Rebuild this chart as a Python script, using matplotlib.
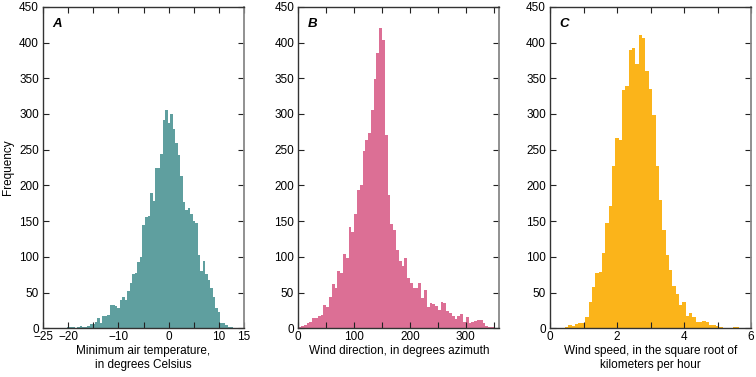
import matplotlib
matplotlib.use("Agg")
import matplotlib.pyplot as plt
import numpy as np

plt.rcParams['font.family'] = ['Liberation Sans', 'DejaVu Sans']

# --- Histogram counts ---
# A: minimum air temperature, bins of 0.5 degC starting at -21.2
temp_start, temp_width = -21.2, 0.5
temp_counts = [1, 1, 2, 2, 2, 1, 2, 3, 2, 2, 4, 6, 6, 9, 14, 8, 18, 18, 19, 32,
               33, 31, 29, 39, 44, 40, 52, 63, 76, 77, 93, 100, 144, 156, 157, 190,
               178, 225, 224, 244, 292, 305, 287, 300, 279, 259, 243, 213, 177, 165,
               169, 160, 150, 147, 102, 80, 94, 76, 67, 57, 44, 29, 23, 8, 8, 5, 2,
               2, 1, 1, 1]

# B: wind direction, bins of 5 degrees starting at 0
dir_start, dir_width = 0, 5
dir_counts = [2, 3, 5, 8, 9, 14, 14, 17, 19, 32, 30, 44, 62, 56, 80, 78, 104, 98,
              142, 135, 160, 194, 200, 248, 263, 274, 305, 349, 386, 420, 403, 270,
              187, 146, 137, 110, 94, 87, 99, 70, 64, 57, 57, 63, 43, 53, 30, 36, 34,
              31, 26, 37, 35, 25, 22, 17, 13, 18, 20, 9, 16, 8, 9, 10, 12, 12, 8, 4,
              2, 2, 1]

# C: sqrt wind speed, bins of 0.1 starting at 0.35
spd_start, spd_width = 0.35, 0.1
spd_counts = [1, 2, 5, 3, 6, 7, 8, 16, 37, 58, 78, 79, 105, 147, 171, 227, 267, 263,
              333, 339, 390, 393, 370, 410, 406, 360, 335, 299, 227, 179, 138, 103,
              81, 59, 48, 33, 37, 17, 21, 16, 9, 9, 10, 9, 5, 5, 3, 2, 0, 1, 1, 2, 2]

panels = [
    dict(counts=temp_counts, start=temp_start, width=temp_width, color="#5f9f9f",
         xlim=(-25, 15), ticks=np.arange(-25, 16, 5),
         labels=["\u221225", "\u221220", "", "\u221210", "", "0", "", "10", "15"],
         xlabel="Minimum air temperature,\nin degrees Celsius", letter="A"),
    dict(counts=dir_counts, start=dir_start, width=dir_width, color="#dc6f95",
         xlim=(0, 360), ticks=np.arange(0, 351, 50),
         labels=["0", "", "100", "", "200", "", "300", ""],
         xlabel="Wind direction, in degrees azimuth", letter="B"),
    dict(counts=spd_counts, start=spd_start, width=spd_width, color="#fbb41a",
         xlim=(0, 6), ticks=np.arange(0, 7, 1),
         labels=["0", "", "2", "", "4", "", "6"],
         xlabel="Wind speed, in the square root of\nkilometers per hour", letter="C"),
]

fig = plt.figure(figsize=(7.56, 3.77), dpi=100)
lefts = [43 / 756, 298.3 / 756, 550 / 756]
w = 201 / 756
bottom, height = 0.129, 0.853

for i, p in enumerate(panels):
    ax = fig.add_axes([lefts[i], bottom, w, height])
    counts = np.array(p["counts"], dtype=float)
    edges = p["start"] + p["width"] * np.arange(len(counts) + 1)
    ax.stairs(counts, edges, fill=True, color=p["color"], linewidth=0)

    ax.set_xlim(*p["xlim"])
    ax.set_ylim(0, 450)
    ax.set_xticks(p["ticks"])
    ax.set_xticklabels(p["labels"])
    ax.set_yticks(np.arange(0, 451, 50))
    ax.tick_params(direction="in", top=True, right=True, length=4, width=0.8,
                   labelsize=8.5, pad=2, color="#222222")
    ax.tick_params(axis="y", pad=3)
    for side in ["left", "bottom", "top"]:
        ax.spines[side].set_color("#333333")
        ax.spines[side].set_linewidth(1.0)
    ax.spines["right"].set_color("#888888")
    ax.spines["right"].set_linewidth(1.3)

    ax.set_xlabel(p["xlabel"], fontsize=8.5, linespacing=1.25)
    ax.xaxis.set_label_coords(0.5, -0.052)
    ax.text(0.07, 0.945, p["letter"], transform=ax.transAxes, fontsize=9.5,
            fontweight="bold", fontstyle="italic", ha="center", va="center")
    if i == 0:
        ax.set_ylabel("Frequency", fontsize=8.5)
        ax.yaxis.set_label_coords(-0.145, 0.5)

fig.savefig("out.png", dpi=100)
